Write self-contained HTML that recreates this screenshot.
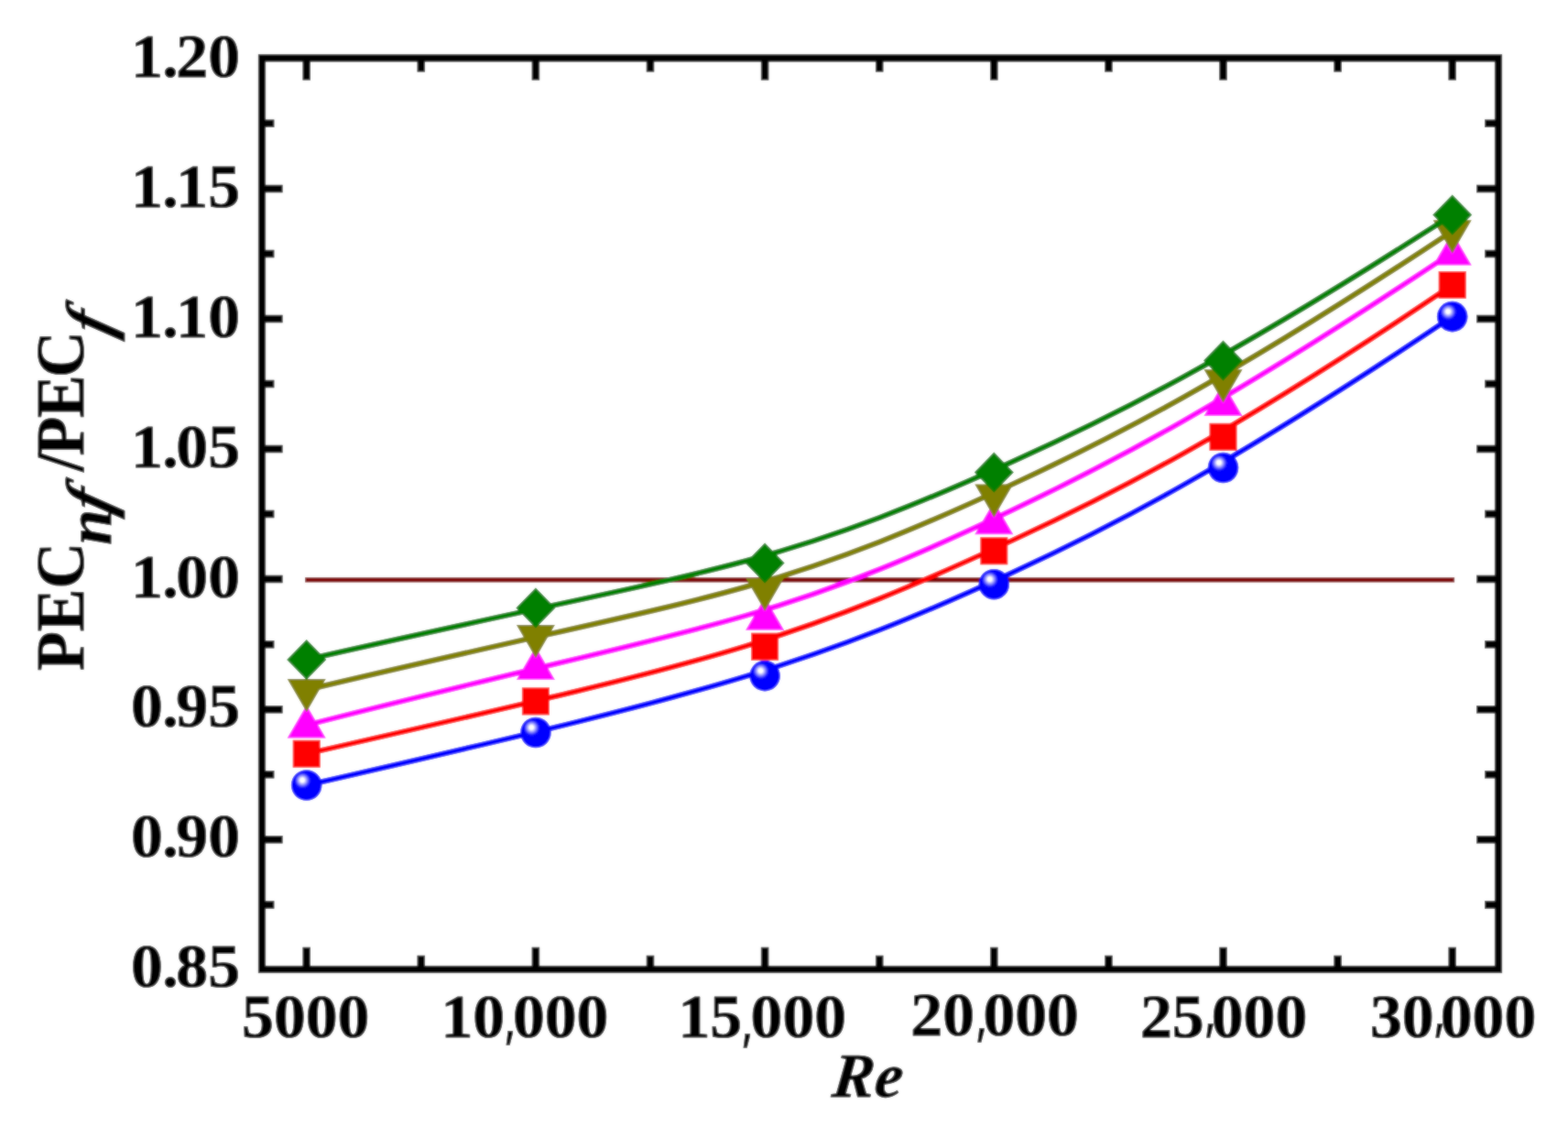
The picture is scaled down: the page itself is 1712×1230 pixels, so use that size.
<!DOCTYPE html>
<html lang="en"><head><meta charset="utf-8"><title>PEC ratio versus Re</title>
<style>html,body{margin:0;padding:0;background:#fff}svg{display:block}text{font-family:"Liberation Serif","DejaVu Serif",serif;font-weight:bold;fill:#000;stroke:#000;stroke-width:1px;stroke-linejoin:round}.t{font-size:67px;stroke-width:1.8px}.a{font-size:70px}.i{font-style:italic}.c{font-family:"DejaVu Sans","Liberation Sans",sans-serif;font-weight:200;font-size:80px;stroke-width:1.6px;stroke-linejoin:miter}</style></head><body>
<svg width="1712" height="1230" viewBox="0 0 1712 1230">
<defs><radialGradient id="ball" cx="0.38" cy="0.36" r="0.62" fx="0.36" fy="0.33"><stop offset="0" stop-color="#ffffff"/><stop offset="0.10" stop-color="#ffffff"/><stop offset="0.24" stop-color="#9090ff"/><stop offset="0.42" stop-color="#0000ff"/><stop offset="1" stop-color="#0000ff"/></radialGradient></defs>
<filter id="soft" x="0" y="0" width="1712" height="1230" filterUnits="userSpaceOnUse"><feGaussianBlur stdDeviation="1.00" result="b"/><feComposite in="SourceGraphic" in2="b" operator="arithmetic" k1="0" k2="0.45" k3="0.55" k4="0"/></filter>
<rect width="1712" height="1230" fill="#fff"/>
<g id="figure" filter="url(#soft)">
<rect width="1712" height="1230" fill="#fff"/>
<g id="refline"><line x1="333.1" y1="632.9" x2="1588.1" y2="632.9" stroke="#800000" stroke-width="5.4"/></g>
<g id="blue">
<path d="M334.70 857.00 C584.90 799.84 710.00 769.91 814.25 738.16 C918.50 706.41 1001.90 672.83 1106.15 624.51 C1210.40 576.18 1335.50 513.10 1585.70 345.60" fill="none" stroke="#0000ff" stroke-width="6" stroke-linejoin="round"/>
<circle cx="334.7" cy="857.0" r="16.8" fill="url(#ball)"/>
<circle cx="584.9" cy="799.5" r="16.8" fill="url(#ball)"/>
<circle cx="835.1" cy="737.6" r="16.8" fill="url(#ball)"/>
<circle cx="1085.3" cy="637.7" r="16.8" fill="url(#ball)"/>
<circle cx="1335.5" cy="510.5" r="16.8" fill="url(#ball)"/>
<circle cx="1585.7" cy="345.6" r="16.8" fill="url(#ball)"/>
</g>
<g id="red">
<path d="M334.70 822.70 C584.90 765.64 710.00 737.07 814.25 705.10 C918.50 673.13 1001.90 637.78 1106.15 589.39 C1210.40 541.01 1335.50 479.60 1585.70 311.00" fill="none" stroke="#ff0000" stroke-width="6" stroke-linejoin="round"/>
<rect x="319.7" y="807.7" width="30" height="30" fill="#ff0000"/>
<rect x="569.9" y="750.4" width="30" height="30" fill="#ff0000"/>
<rect x="820.1" y="690.7" width="30" height="30" fill="#ff0000"/>
<rect x="1070.3" y="586.3" width="30" height="30" fill="#ff0000"/>
<rect x="1320.5" y="461.8" width="30" height="30" fill="#ff0000"/>
<rect x="1570.7" y="296.0" width="30" height="30" fill="#ff0000"/>
</g>
<g id="magenta">
<path d="M334.70 791.40 C584.90 727.53 710.00 702.23 814.25 671.88 C918.50 641.52 1001.90 606.12 1106.15 556.32 C1210.40 506.52 1335.50 442.33 1585.70 275.40" fill="none" stroke="#ff00ff" stroke-width="6" stroke-linejoin="round"/>
<path d="M334.7 769.4 L355.7 805.4 L313.7 805.4 Z" fill="#ff00ff"/>
<path d="M584.9 706.0 L605.9 742.0 L563.9 742.0 Z" fill="#ff00ff"/>
<path d="M835.1 651.8 L856.1 687.8 L814.1 687.8 Z" fill="#ff00ff"/>
<path d="M1085.3 547.3 L1106.3 583.3 L1064.3 583.3 Z" fill="#ff00ff"/>
<path d="M1335.5 417.9 L1356.5 453.9 L1314.5 453.9 Z" fill="#ff00ff"/>
<path d="M1585.7 253.4 L1606.7 289.4 L1564.7 289.4 Z" fill="#ff00ff"/>
</g>
<g id="olive">
<path d="M334.70 753.00 C584.90 693.63 710.00 669.80 814.25 640.51 C918.50 611.21 1001.90 576.45 1106.15 528.12 C1210.40 479.79 1335.50 417.90 1585.70 252.30" fill="none" stroke="#808000" stroke-width="6" stroke-linejoin="round"/>
<path d="M334.7 777.0 L355.7 741.0 L313.7 741.0 Z" fill="#808000"/>
<path d="M584.9 718.0 L605.9 682.0 L563.9 682.0 Z" fill="#808000"/>
<path d="M835.1 666.8 L856.1 630.8 L814.1 630.8 Z" fill="#808000"/>
<path d="M1085.3 564.4 L1106.3 528.4 L1064.3 528.4 Z" fill="#808000"/>
<path d="M1335.5 439.3 L1356.5 403.3 L1314.5 403.3 Z" fill="#808000"/>
<path d="M1585.7 276.3 L1606.7 240.3 L1564.7 240.3 Z" fill="#808000"/>
</g>
<g id="green">
<path d="M334.70 719.90 C584.90 663.03 710.00 640.37 814.25 612.25 C918.50 584.12 1001.90 550.51 1106.15 503.47 C1210.40 456.42 1335.50 395.93 1585.70 234.40" fill="none" stroke="#008000" stroke-width="6" stroke-linejoin="round"/>
<path d="M334.7 697.9 L356.2 719.9 L334.7 741.9 L313.2 719.9 Z" fill="#008000"/>
<path d="M584.9 641.4 L606.4 663.4 L584.9 685.4 L563.4 663.4 Z" fill="#008000"/>
<path d="M835.1 592.6 L856.6 614.6 L835.1 636.6 L813.6 614.6 Z" fill="#008000"/>
<path d="M1085.3 493.6 L1106.8 515.6 L1085.3 537.6 L1063.8 515.6 Z" fill="#008000"/>
<path d="M1335.5 371.4 L1357.0 393.4 L1335.5 415.4 L1314.0 393.4 Z" fill="#008000"/>
<path d="M1585.7 212.4 L1607.2 234.4 L1585.7 256.4 L1564.2 234.4 Z" fill="#008000"/>
</g>
<g id="ticks" stroke="#000" stroke-width="8.5" stroke-linecap="butt">
<path d="M334.7 63.4 v24.2 M334.7 1058.0 v-24.2"/>
<path d="M584.9 63.4 v24.2 M584.9 1058.0 v-24.2"/>
<path d="M835.1 63.4 v24.2 M835.1 1058.0 v-24.2"/>
<path d="M1085.3 63.4 v24.2 M1085.3 1058.0 v-24.2"/>
<path d="M1335.5 63.4 v24.2 M1335.5 1058.0 v-24.2"/>
<path d="M1585.7 63.4 v24.2 M1585.7 1058.0 v-24.2"/>
<path d="M459.8 63.4 v15.2 M459.8 1058.0 v-15.2"/>
<path d="M710.0 63.4 v15.2 M710.0 1058.0 v-15.2"/>
<path d="M960.2 63.4 v15.2 M960.2 1058.0 v-15.2"/>
<path d="M1210.4 63.4 v15.2 M1210.4 1058.0 v-15.2"/>
<path d="M1460.6 63.4 v15.2 M1460.6 1058.0 v-15.2"/>
<path d="M286.0 205.9 h22.6 M1636.0 205.9 h-24.0"/>
<path d="M286.0 348.0 h22.6 M1636.0 348.0 h-24.0"/>
<path d="M286.0 490.1 h22.6 M1636.0 490.1 h-24.0"/>
<path d="M286.0 632.1 h22.6 M1636.0 632.1 h-24.0"/>
<path d="M286.0 774.2 h22.6 M1636.0 774.2 h-24.0"/>
<path d="M286.0 916.3 h22.6 M1636.0 916.3 h-24.0"/>
<path d="M286.0 134.8 h13.4 M1636.0 134.8 h-15.0"/>
<path d="M286.0 276.9 h13.4 M1636.0 276.9 h-15.0"/>
<path d="M286.0 419.0 h13.4 M1636.0 419.0 h-15.0"/>
<path d="M286.0 561.1 h13.4 M1636.0 561.1 h-15.0"/>
<path d="M286.0 703.2 h13.4 M1636.0 703.2 h-15.0"/>
<path d="M286.0 845.3 h13.4 M1636.0 845.3 h-15.0"/>
<path d="M286.0 987.4 h13.4 M1636.0 987.4 h-15.0"/>
</g>
<rect id="frame" x="286.0" y="63.4" width="1350.0" height="994.6" fill="none" stroke="#000" stroke-width="8.2"/>
<g id="ylabels" class="t" transform="scale(1.040 1)">
<text x="137.4 170.4 184.9 218.5" y="84.4">1.20</text>
<text x="137.4 170.4 184.9 218.5" y="226.2">1.15</text>
<text x="137.4 170.4 184.9 218.5" y="368.0">1.10</text>
<text x="137.4 170.4 184.9 218.5" y="509.8">1.05</text>
<text x="137.4 170.4 184.9 218.5" y="651.6">1.00</text>
<text x="137.4 170.4 184.9 218.5" y="793.4">0.95</text>
<text x="137.4 170.4 184.9 218.5" y="935.2">0.90</text>
<text x="137.4 170.4 184.9 218.5" y="1077.0">0.85</text>
</g>
<g id="xlabels" class="t" transform="scale(1.040 1)">
<text x="253.9" y="1132.3">5000</text>
<text y="1132.3"><tspan x="462.9">10</tspan><tspan class="c" x="523.1" y="1131.0">,</tspan><tspan x="538.4" y="1132.3">000</tspan></text>
<text y="1132.3"><tspan x="712.0">15</tspan><tspan class="c" x="772.1" y="1133.6">,</tspan><tspan x="788.1" y="1132.3">000</tspan></text>
<text y="1129.9"><tspan x="956.1">20</tspan><tspan class="c" x="1018.1" y="1127.8">,</tspan><tspan x="1032.1" y="1129.9">000</tspan></text>
<text y="1132.3"><tspan x="1197.1">25</tspan><tspan class="c" x="1258.3" y="1122.7">,</tspan><tspan x="1271.9" y="1132.3">000</tspan></text>
<text y="1132.3"><tspan x="1438.4">30</tspan><tspan class="c" x="1498.8" y="1123.3">,</tspan><tspan x="1512.3" y="1132.3">000</tspan></text>
</g>
<text id="xtitle" class="a i" style="font-size:68.5px" transform="translate(907.3 1197.2) skewX(-6)" x="0 46.3">Re</text>
<g id="ytitle" class="a" transform="translate(91.3 731.3) rotate(-90)">
<text transform="scale(1 1.06)" x="-0.7" y="0">PEC</text>
<text class="i" x="136.6" y="29.5">n</text>
<text class="i" transform="translate(168.5 29.5) skewX(-15)">f</text>
<text transform="scale(1 1.06)" x="216.8 233.9 275.2 319.2" y="0">/PEC</text>
<text class="i" transform="translate(362.5 29.5) skewX(-15)">f</text>
</g>
</g>
</svg></body></html>
